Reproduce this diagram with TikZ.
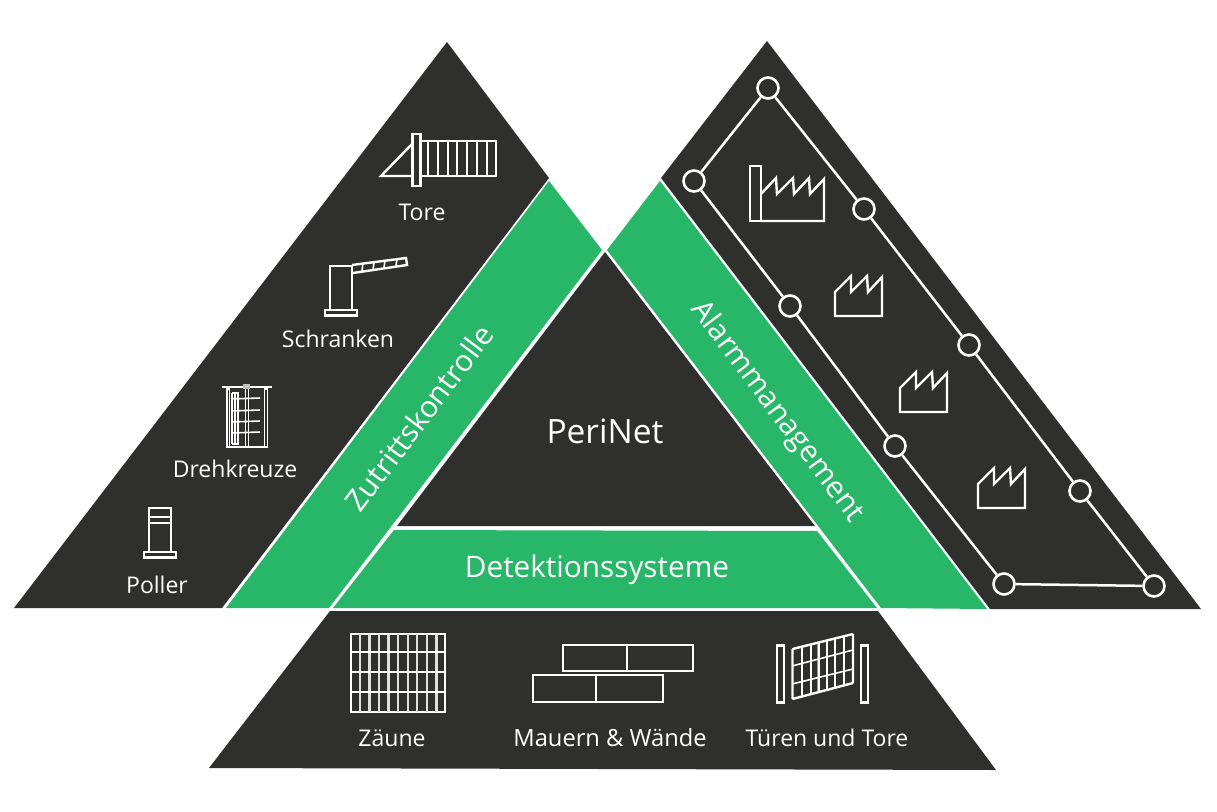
\documentclass[tikz,border=0pt]{standalone}
\usepackage{fontspec}
\setmainfont{Open Sans}
\definecolor{darkp}{HTML}{2F2F2E}
\definecolor{greenp}{HTML}{28B768}
\tikzset{
  x=1pt,y=-1pt,
  darkarea/.style={fill=darkp,draw=none},
  greenarea/.style={fill=greenp,draw=none},
  icon/.style={draw=white,line width=2.4pt,line join=miter},
  iconthin/.style={draw=white,line width=1.6pt},
  lbl/.style={text=white,font=\fontsize{23}{27}\selectfont,inner sep=0pt,anchor=center},
  band/.style={text=white,font=\fontsize{29.7}{34}\selectfont,inner sep=0pt,anchor=center},
  netnode/.style={circle,draw=white,line width=2.6pt,fill=darkp,minimum size=21pt,inner sep=0pt},
  netline/.style={draw=white,line width=2.5pt},
  factory/.pic={\draw[icon] (0,-1) -- (0,-25) -- (16,-41) -- (16,-25) -- (32,-41) -- (33,-25) -- (47,-40) -- (47,-1) -- cycle;}
}
\begin{document}
\begin{tikzpicture}
\useasboundingbox (0,0) rectangle (1217,811);
% areas
\fill[darkarea] (447,42) -- (549,178) -- (222,608) -- (14,608) -- cycle;
\fill[darkarea] (767,41) -- (1201,609) -- (990,609) -- (661,178) -- cycle;
\fill[darkarea] (605,252) -- (815,526) -- (397,526) -- cycle;
\fill[darkarea] (330,611) -- (878,611) -- (996,770) -- (209,768) -- cycle;
\fill[greenarea] (549,181) -- (602,250) -- (329,608) -- (226,608) -- cycle;
\fill[greenarea] (660,181) -- (607,250) -- (881,608) -- (987,609) -- cycle;
\fill[greenarea] (394,530) -- (817,531) -- (877,608) -- (333,608) -- cycle;
% labels
\node[lbl] (tore) at (422,212) {Tore};
\node[lbl] (schranken) at (338,339) {Schranken};
\node[lbl] (drehkreuze) at (235,469) {Drehkreuze};
\node[lbl] (poller) at (157,585) {Poller};
\node[text=white,font=\fontsize{33.5}{38}\selectfont,inner sep=0pt] (perinet) at (605,431) {PeriNet};
\node[band] (detektion) at (597,570) {Detektionssysteme};
\node[band,rotate=53] (zutritt) at (419,418) {Zutrittskontrolle};
\node[band,rotate=-53] (alarm) at (777,412) {Alarmmanagement};
\node[lbl] (zaeune) at (392,738) {Zäune};
\node[lbl,font=\fontsize{23.7}{27}\selectfont] (mauern) at (610,738) {Mauern \& Wände};
\node[lbl] (tueren) at (827,738) {Türen und Tore};
% network
\node[netnode] (n1) at (768,88) {};
\node[netnode] (n2) at (694,181) {};
\node[netnode] (n3) at (864,209) {};
\node[netnode] (n4) at (790,306) {};
\node[netnode] (n5) at (969,345) {};
\node[netnode] (n6) at (895,446) {};
\node[netnode] (n7) at (1080,491) {};
\node[netnode] (n8) at (1004,584) {};
\node[netnode] (n9) at (1154,586) {};
\draw[netline] (n1) -- (n2);
\draw[netline] (n2) -- (n4);
\draw[netline] (n4) -- (n6);
\draw[netline] (n6) -- (n8);
\draw[netline] (n8) -- (n9);
\draw[netline] (n9) -- (n7);
\draw[netline] (n7) -- (n5);
\draw[netline] (n5) -- (n3);
\draw[netline] (n3) -- (n1);
% factories
\draw[icon] (750,166) rectangle (761,221);
\draw[icon] (761,194) -- (776,178) -- (777,194) -- (793,178) -- (794,194) -- (809,178) -- (810,194) -- (824,179) -- (824,221) -- (761,221);
\pic at (835,317) {factory};
\pic at (900,413) {factory};
\pic at (978,509) {factory};
% gate (Tore)
\draw[icon] (412.5,134) rectangle (420.5,186);
\draw[icon] (412,144) -- (381,176) -- (412,176);
\draw[icon] (421,141) rectangle (496,176);
\foreach \xx in {428,438,448,457,467,477,487} \draw[icon] (\xx,141) -- (\xx,176);
% barrier
\draw[icon] (330,266) rectangle (352,310);
\draw[icon] (325,310) rectangle (357,315.5);
\draw[icon] (352,265) -- (406,258) -- (407,265) -- (353,273);
\foreach \xx/\ya/\yb in {363/263/271,374/262/270,385/260/268,397/259/266} \draw[iconthin] (\xx,\ya) -- (\xx-1,\yb);
% turnstile
\draw[iconthin] (222,387) -- (272,387);
\fill[white!70!darkp] (243,384) rectangle (250,389);
\draw[iconthin] (227,389) rectangle (229.5,447);
\draw[iconthin] (264.5,389) rectangle (267.5,447);
\draw[iconthin] (245.5,389) -- (245.5,447);
\draw[iconthin] (248.5,389) -- (248.5,447);
\draw[iconthin,line width=1.1pt] (232,393) -- (238,393) -- (238,444) -- (232,444);
\draw[iconthin,line width=1.1pt] (232,393) -- (232,444);
\draw[iconthin,line width=1.1pt] (235,393) -- (235,444);
\foreach \yy in {399,411,422,433} \draw[iconthin] (231,\yy) -- (260,\yy-1);
\draw[iconthin] (226,447) -- (268,447);
% bollard
\draw[icon] (149,508) rectangle (171,552);
\draw[icon] (149,517) -- (171,517);
\draw[icon] (149,523) -- (171,523);
\draw[icon] (144,552) rectangle (176,557.5);
% fence
\draw[icon] (351,634) rectangle (445,712);
\foreach \xx in {360,369.5,378.8,388.4,398,407.6,417.2,426.8,436.4} \draw[draw=white!85!darkp,line width=2.2pt] (\xx,634) -- (\xx,712);
\foreach \yy in {652,672,692} \draw[icon] (351,\yy) -- (445,\yy);
% bricks
\draw[icon] (563,645) rectangle (627,671);
\draw[icon] (627,645) rectangle (693,671);
\draw[icon] (533,675) rectangle (596,702);
\draw[icon] (596,675) rectangle (663,702);
% door
\draw[icon] (777,645.5) rectangle (784,702.5);
\draw[icon] (861,645.5) rectangle (868,702.5);
\draw[icon,rounded corners=1pt] (792.5,649) -- (853,634) -- (853,683) -- (792.5,699) -- cycle;
\foreach \xa/\ya/\yb in {802/647/697,811/644/695,819/642/693,827/640/690,835/638/688,844/636/685} \draw[iconthin] (\xa,\ya) -- (\xa,\yb);
\fill[white,opacity=.5] (816.5,643) rectangle (820,692);
\draw[iconthin] (792,666) -- (853,650);
\draw[iconthin] (792,684) -- (853,669);
\end{tikzpicture}
\end{document}
